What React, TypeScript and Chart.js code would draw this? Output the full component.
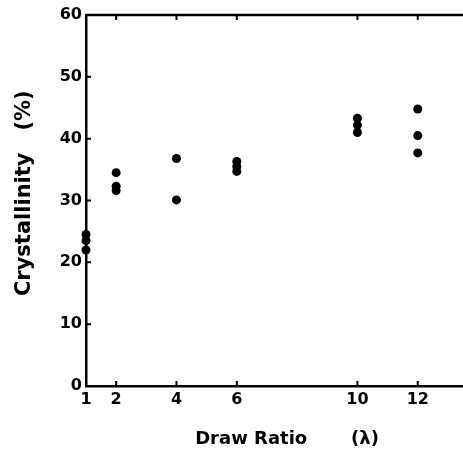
import React, { useEffect, useRef } from "react";
import { Chart, registerables } from "chart.js";

Chart.register(...registerables);

const drawRatio = [1, 1, 1, 2, 2, 2, 4, 4, 6, 6, 6, 10, 10, 10, 12, 12, 12];
const crystallinity = [24.5, 23.5, 22, 34.5, 32.3, 31.6, 36.8, 30.1, 36.3, 35.5, 34.7, 43.3, 42.2, 41, 44.8, 40.5, 37.7];
const xTickValues = [1, 2, 4, 6, 10, 12];
const xFrameTicks = [2, 4, 6, 10, 12];
const yTickValues = [0, 10, 20, 30, 40, 50, 60];

const FONT = "'DejaVu Sans', sans-serif";
const LINE = 2.5;

const frameTicks = {
  id: "frameTicks",
  afterDatasetsDraw(chart: any) {
    const { ctx, chartArea, scales } = chart;
    const x = scales.x;
    const y = scales.y;
    const len = 5;
    ctx.save();
    ctx.strokeStyle = "#000";
    ctx.lineWidth = LINE;
    ctx.beginPath();
    ctx.moveTo(chartArea.left, chartArea.top);
    ctx.lineTo(chartArea.right, chartArea.top);
    ctx.stroke();
    ctx.lineWidth = 2;
    ctx.beginPath();
    xFrameTicks.forEach((v) => {
      const px = x.getPixelForValue(v);
      ctx.moveTo(px, chartArea.bottom);
      ctx.lineTo(px, chartArea.bottom - len);
      ctx.moveTo(px, chartArea.top);
      ctx.lineTo(px, chartArea.top + len);
    });
    yTickValues.forEach((v) => {
      const py = y.getPixelForValue(v);
      ctx.moveTo(chartArea.left, py);
      ctx.lineTo(chartArea.left + len, py);
    });
    ctx.stroke();
    ctx.restore();
  },
};

export default function App() {
  const ref = useRef<HTMLCanvasElement>(null);
  useEffect(() => {
    if (!ref.current) return;
    const chart = new Chart(ref.current, {
      type: "scatter",
      data: {
        datasets: [
          {
            data: drawRatio.map((v, i) => ({ x: v, y: crystallinity[i] })),
            pointRadius: 4.5,
            pointBackgroundColor: "#000",
            pointBorderWidth: 0,
            clip: false as any,
          },
        ],
      },
      options: {
        animation: false,
        responsive: false,
        layout: { autoPadding: false, padding: { top: 15, right: 0, bottom: 0, left: 0 } },
        plugins: { legend: { display: false }, tooltip: { enabled: false } },
        scales: {
          x: {
            type: "linear",
            min: 1,
            max: 13.5,
            afterBuildTicks: (s: any) => {
              s.ticks = xTickValues.map((v) => ({ value: v }));
            },
            afterFit: (s: any) => {
              s.height = 64;
              s.paddingRight = 0;
              s.paddingLeft = 0;
            },
            grid: { display: false, drawTicks: false },
            border: { display: true, color: "#000", width: LINE },
            ticks: {
              color: "#000",
              font: { family: FONT, size: 16, weight: "bold" },
              padding: 4,
              maxRotation: 0,
              autoSkip: false,
            },
            title: {
              display: true,
              text: "    Draw Ratio       (λ)",
              color: "#000",
              font: { family: FONT, size: 18, weight: "bold" },
              padding: { top: 0, bottom: 0 },
            },
          },
          y: {
            min: 0,
            max: 60,
            afterBuildTicks: (s: any) => {
              s.ticks = yTickValues.map((v) => ({ value: v }));
            },
            afterFit: (s: any) => {
              s.width = 86;
            },
            grid: { display: false, drawTicks: false },
            border: { display: true, color: "#000", width: LINE },
            ticks: {
              color: "#000",
              font: { family: FONT, size: 16, weight: "bold" },
              padding: 4,
            },
            title: {
              display: true,
              text: "  Crystallinity   (%)",
              color: "#000",
              font: { family: FONT, size: 21, weight: "bold" },
              padding: { top: 12, bottom: 0 },
            },
          },
        },
      },
      plugins: [frameTicks],
    });
    return () => chart.destroy();
  }, []);
  return (
    <div style={{ position: "absolute", left: 0, top: 0, width: 463, height: 450, background: "#fff" }}>
      <canvas ref={ref} width={463} height={450} />
    </div>
  );
}
